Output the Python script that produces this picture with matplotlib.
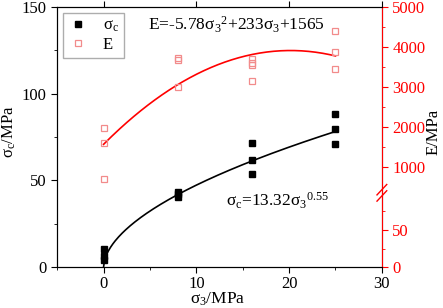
import numpy as np
import matplotlib
matplotlib.use("Agg")
import matplotlib.pyplot as plt

plt.rcParams['font.family'] = ['Liberation Serif', 'DejaVu Serif']
plt.rcParams['mathtext.fontset'] = 'custom'
plt.rcParams['mathtext.rm'] = 'Liberation Serif'
plt.rcParams['mathtext.it'] = 'Liberation Serif'
plt.rcParams['mathtext.bf'] = 'Liberation Serif:bold'

# ---- data ----
sig3_sc = [0, 0, 0, 8, 8, 8, 16, 16, 16, 25, 25, 25]
sc_vals = [10.5, 6.5, 4.2, 43.5, 42.0, 40.5, 71.4, 61.7, 53.5, 88.1, 79.4, 70.8]
sig3_E = [0, 0, 0, 8, 8, 8, 16, 16, 16, 16, 25, 25, 25]
E_vals = [1985, 1600, 710, 3730, 3664, 3003, 3690, 3605, 3540, 3153, 4406, 3880, 3446]
sc_coef, sc_exp = 13.32, 0.55
E_coefs = [-5.78, 233, 1565]

x_ticks = [0, 10, 20, 30]
x_minor = [-5, 5, 15, 25]
y_ticks = [0, 50, 100, 150]
y_minor = [25, 75, 125]
E_ticks = [0, 50, 1000, 2000, 3000, 4000, 5000]
E_minor = [25, 75, 1500, 2500, 3500, 4500]

# broken right axis mapping
brk_v = [0, 100, 350, 5000]
brk_u = [0, 0.285, 0.2851, 1.0]

def fwd(v):
    return np.interp(np.asarray(v, dtype=float), brk_v, brk_u)

def inv(u):
    return np.interp(np.asarray(u, dtype=float), brk_u, brk_v)

FS = 12

fig = plt.figure(figsize=(4.43, 3.08), dpi=100)
ax = fig.add_subplot(111)
fig.subplots_adjust(left=0.129, right=0.862, top=0.977, bottom=0.133)

xx = np.linspace(0, 25, 200)
ax.plot(xx, sc_coef * xx ** sc_exp, color='black', lw=1.2, zorder=3)
h1, = ax.plot(sig3_sc, sc_vals, 's', color='black', ms=4.3, ls='none', zorder=4)

ax.set_xlim(-5, 30)
ax.set_ylim(0, 150)
ax.set_xticks(x_ticks)
ax.set_xticks(x_minor, minor=True)
ax.set_yticks(y_ticks)
ax.set_yticks(y_minor, minor=True)
ax.tick_params(axis='both', which='both', direction='out', labelsize=FS)
ax.tick_params(which='major', length=4)
ax.tick_params(which='minor', length=2.5)
ax.tick_params(axis='x', top=True, which='major', pad=2.5)
ax.set_xlabel('σ$_3$/MPa', fontsize=12.5)
ax.xaxis.set_label_coords(0.495, -0.09)
ax.set_ylabel('σ$_\\mathrm{c}$/MPa', fontsize=FS)
ax.yaxis.set_label_coords(-0.122, 0.52)

ax2 = ax.twinx()
ax2.set_yscale('function', functions=(fwd, inv))
ax2.set_ylim(0, 5000)
Efit = E_coefs[0] * xx ** 2 + E_coefs[1] * xx + E_coefs[2]
ax2.plot(xx, Efit, color='red', lw=1.2, zorder=3)
h2, = ax2.plot(sig3_E, E_vals, 's', mfc='none', mec='#f28b8b', mew=0.9, ms=4.5,
               ls='none', zorder=4)
ax2.set_yticks(E_ticks)
ax2.set_yticks(E_minor, minor=True)
ax2.set_yticklabels([str(t) for t in E_ticks])
ax2.tick_params(axis='y', which='both', direction='out', colors='red', labelsize=FS)
ax2.tick_params(which='major', length=4)
ax2.tick_params(which='minor', length=2.5)
ax2.spines['right'].set_color('red')
ax2.set_ylabel('E/MPa', fontsize=FS, color='black')
ax2.yaxis.set_label_coords(1.135, 0.52)

# break marks on right spine
ub = 0.2855
for dy in (-0.012, 0.012):
    ax2.plot([0.985, 1.015], [ub + dy - 0.02, ub + dy + 0.02], color='red', lw=1.0,
             transform=ax2.transAxes, clip_on=False)

leg = ax2.legend([h1, h2], ['σ$_\\mathrm{c}$', 'E'], loc='upper left',
                 fontsize=FS, frameon=True, fancybox=False, edgecolor='#999999',
                 handlelength=1.2, handletextpad=0.9, borderpad=0.3,
                 labelspacing=0.15, borderaxespad=0,
                 bbox_to_anchor=(0.018, 0.978))
leg.get_frame().set_linewidth(1.0)

ax.text(0.28, 0.93, 'E=-5.78σ$_3$$^2$+233σ$_3$+1565', transform=ax.transAxes,
        fontsize=12.5, ha='left', va='center')
ax.text(0.52, 0.255, 'σ$_\\mathrm{c}$=13.32σ$_3$$^{0.55}$', transform=ax.transAxes,
        fontsize=12.5, ha='left', va='center')

fig.savefig('out.png', dpi=100)
